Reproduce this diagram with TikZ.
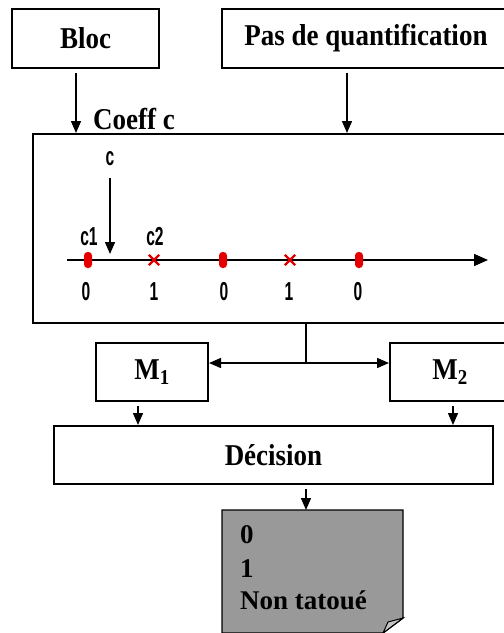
\documentclass[tikz,border=0pt]{standalone}
\usepackage{fontspec}
\usepackage{graphicx}
\setmainfont{Liberation Serif}
\newfontfamily\narrowsans[FakeStretch=0.6]{Liberation Sans}
\usetikzlibrary{arrows.meta,calc,shapes.misc}

\definecolor{notegray}{RGB}{153,153,153}
\definecolor{foldgray}{RGB}{196,196,196}
\definecolor{markred}{RGB}{228,0,0}

% box captions are set slightly taller than the font's natural shape
\newcommand{\tallcap}[1]{\scalebox{1}[1.12]{#1}}

\begin{document}
\begin{tikzpicture}[x=1pt,y=-1pt,
  box/.style={draw, line width=2pt, inner sep=0pt,
              font=\bfseries\fontsize{27}{31}\selectfont},
  arr/.style={-{Triangle[length=12pt,width=10pt]}, line width=1.4pt},
  axisarr/.style={-{Triangle[length=14pt,width=12pt]}, line width=1.6pt},
  lbl/.style={font=\narrowsans\bfseries\fontsize{26}{29}\selectfont, inner sep=0pt},
  zeromark/.style={fill=markred, rounded corners=3.5pt, minimum width=8pt,
                   minimum height=16pt, inner sep=0pt},
  onemark/.style={cross out, draw=markred, line width=2.4pt, minimum size=8pt,
                  inner sep=0pt},
  notetext/.style={font=\bfseries\fontsize{27}{31}\selectfont, inner sep=0pt,
                   anchor=base west}]
\useasboundingbox (0,0) rectangle (504,633);
\clip (0,0) rectangle (504,633);
\fill[white] (0,0) rectangle (504,633);

% input blocks
\node[box, minimum width=147pt, minimum height=59pt] (bloc) at (85.5,38.5) {\tallcap{Bloc}};
\node[box, minimum width=288pt, minimum height=59pt] (pas) at (366,38.5) {\tallcap{Pas de quantification}};

% quantisation block
\node[box, minimum width=546pt, minimum height=189pt] (big) at (306,228.5) {};
\node[font=\bfseries\fontsize{27}{31}\selectfont, inner sep=0pt] (coeff) at (134,119) {\tallcap{Coeff c}};

\coordinate (blocout) at ($(bloc.south)+(-9.5,4)$);
\coordinate (pasout) at ($(pas.south)+(-19,4)$);
\draw[arr] (blocout) -- (blocout |- big.north);
\draw[arr] (pasout) -- (pasout |- big.north);

% quantisation axis
\coordinate (axL) at (67,260);
\coordinate (axR) at (488,260);
\draw[axisarr] (axL) -- (axR);

\node[zeromark] (z1) at (88,260) {};
\node[onemark]  (o1) at (154,260) {};
\node[zeromark] (z2) at (223,260) {};
\node[onemark]  (o2) at (290,260) {};
\node[zeromark] (z3) at (359,260) {};

\node[lbl] (c1) at (89,237) {c1};
\node[lbl] (c2) at (155,237) {c2};
\node[lbl] (clbl) at (110,159) {c};
\coordinate (cpos) at (110,254);
\draw[arr] ([yshift=-12pt]clbl.south) -- (cpos);

\node[lbl] (b1) at (86,292) {0};
\node[lbl] (b2) at (154,292) {1};
\node[lbl] (b3) at (224,292) {0};
\node[lbl] (b4) at (289,292) {1};
\node[lbl] (b5) at (358,292) {0};

% detectors
\node[box, minimum width=112pt, minimum height=58pt] (m1) at (152,372) {\tallcap{M\textsubscript{1}}};
\node[box, minimum width=120pt, minimum height=58pt] (m2) at (450,372) {\tallcap{M\textsubscript{2}}};

\coordinate (split) at (306,363);
\draw[line width=1.4pt] (big.south) -- (split);
\draw[arr] (split) -- (split -| m1.east);
\draw[arr] (split) -- (split -| m2.west);

% decision
\node[box, minimum width=439pt, minimum height=58pt] (dec) at (273.5,455) {\tallcap{Décision}};
\coordinate (m1out) at ($(m1.south)+(-14,4)$);
\coordinate (m2out) at ($(m2.south)+(3,4)$);
\draw[arr] (m1out) -- (m1out |- dec.north);
\draw[arr] (m2out) -- (m2out |- dec.north);

% output note with folded corner
\coordinate (decout) at ($(dec.south)+(32.5,4)$);
\coordinate (notetop) at (306,510);
\draw[arr] (decout) -- (notetop);
\draw[line width=1.4pt, fill=notegray]
  (222,510) -- (403,510) -- (403,618) -- (383,633) -- (222,633) -- cycle;
\draw[line width=1pt, fill=foldgray]
  (403,618) -- (388,622) -- (383,633) -- cycle;
\node[notetext] (out0) at (240,543) {0};
\node[notetext] (out1) at (240,577) {1};
\node[notetext] (out2) at (240,609) {Non tatoué};
\end{tikzpicture}
\end{document}
